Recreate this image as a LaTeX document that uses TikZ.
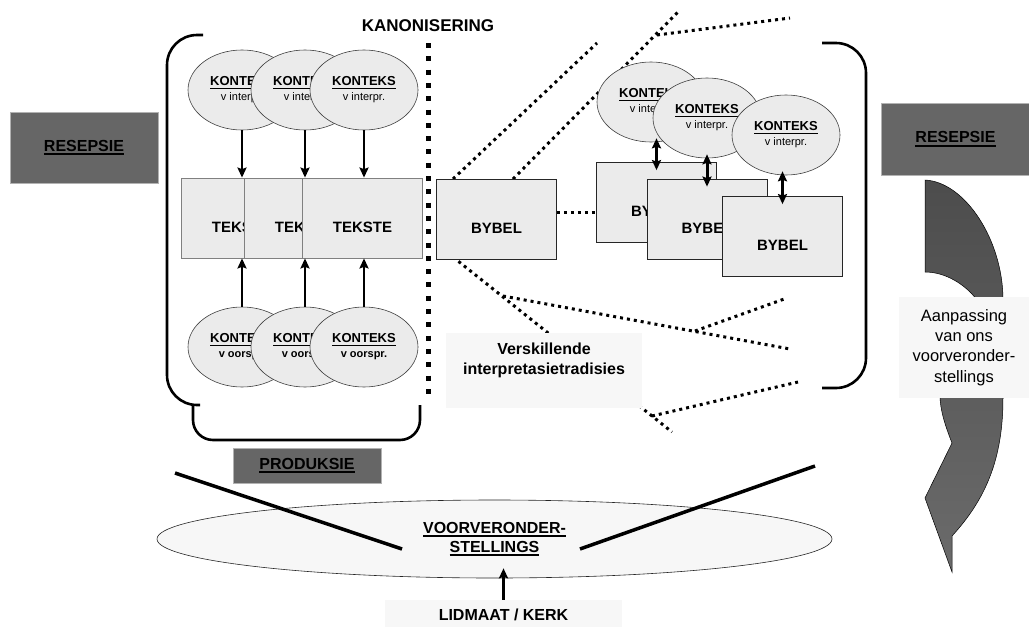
\documentclass[tikz,border=0pt]{standalone}
\usepackage{fontspec}
\setmainfont{Liberation Sans}
\usepackage{tikz}
\usetikzlibrary{arrows.meta,positioning,shapes.geometric,calc}

\newcommand{\ulbold}[2][2pt]{\leavevmode\setbox0=\hbox{#2}\rlap{\vrule width\wd0 height -2pt depth \dimexpr2pt+#1\relax}\box0}

\begin{document}
\begin{tikzpicture}[x=1pt,y=-1pt,
      kontext_node/.style={
         ellipse,
         draw=black!75,
         fill=black!8,
         line width=0.6pt,
         inner sep=0pt,
         minimum width=108pt,
         minimum height=80pt,
         align=center,
         font=\bfseries\fontsize{13}{15}\selectfont},
      tekst_box/.style={
         rectangle,
         draw=black!50,
         fill=black!8,
         line width=0.8pt,
         inner sep=0pt,
         minimum width=120pt,
         minimum height=80pt,
         label={[font=\bfseries\fontsize{15}{17}\selectfont,yshift=-9pt]center:#1}},
      bybel_box/.style={
         tekst_box=#1,
         draw=black!85},
      dark_box/.style={
         rectangle,
         draw=black!30,
         fill=black!60,
         line width=0.6pt,
         inner sep=0pt,
         font=\bfseries\fontsize{16}{19}\selectfont},
      light_box/.style={
         rectangle,
         fill=black!3,
         inner sep=0pt,
         align=center},
      arrow_thick/.style={
        -{Stealth[length=10pt,width=9pt,inset=1.5pt]},
        line width=2.7pt},
      arrow_both/.style={
        {Stealth[length=10pt,width=9pt,inset=1.5pt]}-{Stealth[length=10pt,width=9pt,inset=1.5pt]},
        line width=3pt},
      fan_dots/.style={line width=3pt, dash pattern=on 3pt off 4pt},
      canon_dots/.style={line width=5pt, dash pattern=on 5pt off 8.3pt},
      bracket_line/.style={line width=2.6pt, rounded corners=#1},
      cross_line/.style={line width=3.5pt}
]
\useasboundingbox (0,0) rectangle (1029,627);

      %fan of interpretation traditions
      \coordinate (fa1) at (453,179); \coordinate (fa2) at (597,43);
      \coordinate (fb1) at (513,179); \coordinate (fb2) at (678,12);
      \coordinate (fc1) at (657,35);  \coordinate (fc2) at (790,18);
      \coordinate (fd1) at (453,257); \coordinate (fd2) at (672,432);
      \coordinate (fe1) at (503,296); \coordinate (fe2) at (790,349);
      \coordinate (ff1) at (695,331); \coordinate (ff2) at (787,298);
      \coordinate (fg1) at (652,416); \coordinate (fg2) at (798,382);
      \foreach \i/\j in {fa1/fa2, fb1/fb2, fc1/fc2, fd1/fd2, fe1/fe2, ff1/ff2, fg1/fg2}
        \draw[fan_dots] (\i) -- (\j);

      \node[light_box, minimum width=196pt, minimum height=75pt] (trad) at (544,370.5) {};
      \node[align=center, font=\bfseries\fontsize{16}{20}\selectfont] (trad_txt) at ($(trad.center)+(0,-10)$) {Verskillende\\interpretasietradisies};

      %kanonisering
      \node[font=\bfseries\fontsize{17}{20}\selectfont] (kanon) at (428,26) {KANONISERING};
      \coordinate (c_top) at (428,43);
      \coordinate (c_bot) at (428,397);
      \draw[canon_dots] (c_top) -- (c_bot);

      %brackets
      \draw[bracket_line=30pt] (203,35) -- (167,35) -- (167,405) -- (200,405);
      \draw[bracket_line=20pt] (193,405) -- (193,440) -- (420,440) -- (420,405);
      \draw[bracket_line=30pt] (822,43) -- (866,43) -- (866,388) -- (822,388);

      %produksie side
      \foreach \n/\x in {1/241.5, 2/304.5, 3/362.5}
        \node[tekst_box=TEKSTE] (tx\n) at (\x,218) {};
      \foreach \n/\x in {1/242, 2/305, 3/364}
        \node[kontext_node] (ki\n) at (\x,90) {\ulbold[1.4pt]{KONTEKS}\\{\mdseries\fontsize{11}{13}\selectfont v interpr.}};
      \foreach \n/\x in {1/242, 2/305, 3/364}
        \node[kontext_node] (ko\n) at (\x,347) {\ulbold[1.4pt]{KONTEKS}\\{\fontsize{11}{13}\selectfont v oorspr.}};
      \foreach \n in {1,2,3} {
        \draw[arrow_thick] (ki\n.south) -- (ki\n.south |- tx1.north);
        \draw[arrow_thick] (ko\n.north) -- (ko\n.north |- tx1.south);
      }

      %resepsie side
      \node[bybel_box=BYBEL] (bb0) at (496.5,219) {};
      \foreach \n/\x/\y in {1/656.5/202.5, 2/707/219, 3/782.5/236.5}
        \node[bybel_box=BYBEL] (bb\n) at (\x,\y) {};
      \draw[fan_dots] ($(bb0.east)+(0,-7)$) -- ($(bb0.east -| bb1.west)+(0,-7)$);
      \foreach \n/\x/\y in {1/651/102, 2/707/118, 3/786/135}
        \node[kontext_node] (kb\n) at (\x,\y) {\ulbold[1.4pt]{KONTEKS}\\{\mdseries\fontsize{11}{13}\selectfont v interpr.}};
      \foreach \n in {1,2,3}
        \draw[arrow_both] ($(bb\n.north |- kb\n.south)+(0,-4)$) -- ($(bb\n.north)+(0,8)$);

      %labels
      \node[dark_box, minimum width=148pt, minimum height=71pt] (res_l) at (84,147.5) {\ulbold{RESEPSIE}};
      \node[dark_box, minimum width=148pt, minimum height=72pt] (res_r) at (955.5,139) {\ulbold{RESEPSIE}};
      \node[dark_box, minimum width=148pt, minimum height=35pt] (prod) at (307,465.5) {\ulbold{PRODUKSIE}};

      %adjustment arrow
      \path[draw=black, line width=0.5pt, top color=black!70, bottom color=black!58]
        (925,180) .. controls (965,182) and (1003,240) .. (1003,300)
        -- (1003,398) .. controls (1003,460) and (985,500) .. (952,536)
        -- (952,572) -- (925,498) -- (952,443)
        .. controls (945,425) and (940,410) .. (940,395)
        -- (977,300) .. controls (965,284) and (945,272) .. (925,272) -- cycle;
      \node[light_box, minimum width=130pt, minimum height=101pt, font=\fontsize{16.5}{20.3}\selectfont] (aanp) at (964,347.5) {Aanpassing\\van ons\\voorveronder-\\stellings};

      %voorveronderstellings
      \node[ellipse, draw=black!85, fill=black!3, line width=0.6pt, minimum width=675pt, minimum height=78pt,
            align=center, font=\bfseries\fontsize{16}{19}\selectfont] (voor) at (494.5,539) {\ulbold{VOORVERONDER-}\\\ulbold{STELLINGS}};
      \coordinate (xl_a) at (175,473); \coordinate (xl_b) at (402,549);
      \coordinate (xr_a) at (580,549); \coordinate (xr_b) at (815,466);
      \draw[cross_line] (xl_a) -- (xl_b);
      \draw[cross_line] (xr_a) -- (xr_b);

      \node[light_box, minimum width=237pt, minimum height=30pt, font=\bfseries\fontsize{16}{19}\selectfont] (lid) at (503.5,615) {LIDMAAT / KERK};
      \draw[arrow_thick] (lid.north) -- ($(lid.north |- voor.south)+(0,-10)$);
\end{tikzpicture}
\end{document}
